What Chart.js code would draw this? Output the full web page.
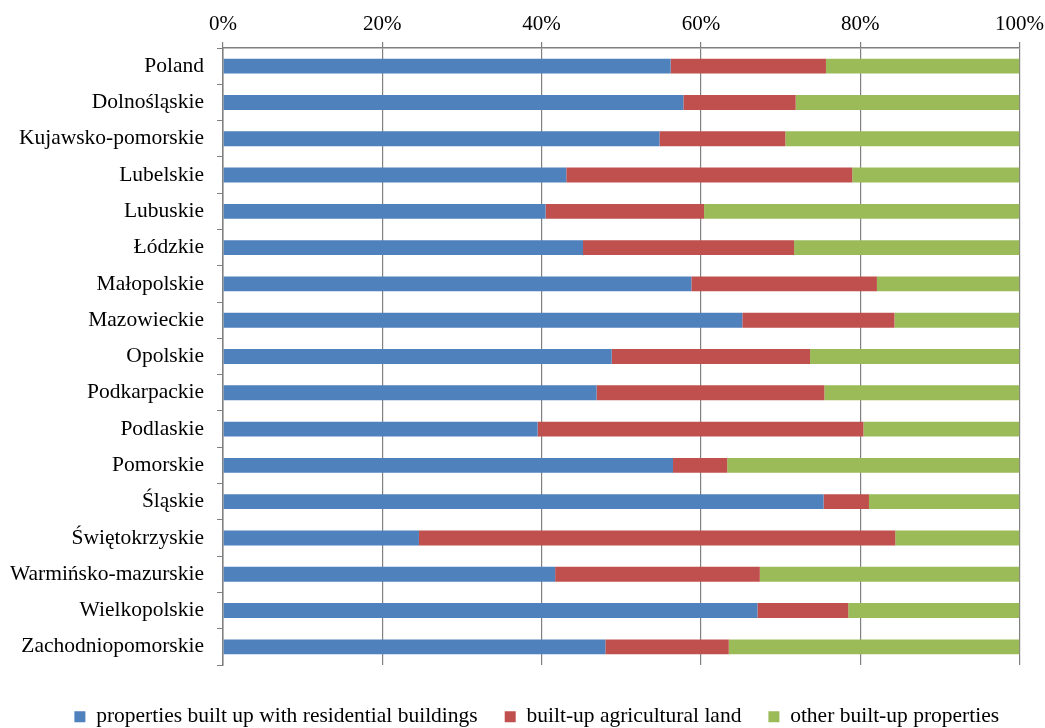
<!DOCTYPE html>
<html>
<head>
<meta charset="utf-8">
<script src="https://cdn.jsdelivr.net/npm/chart.js@4.4.1/dist/chart.umd.min.js"></script>
<style>
  html, body { margin: 0; padding: 0; background: #fff; }
  canvas { display: block; }
</style>
</head>
<body>
<canvas id="c" width="1045" height="728"></canvas>
<script>
const categories = [
  "Poland", "Dolnośląskie", "Kujawsko-pomorskie", "Lubelskie", "Lubuskie",
  "Łódzkie", "Małopolskie", "Mazowieckie", "Opolskie", "Podkarpackie",
  "Podlaskie", "Pomorskie", "Śląskie", "Świętokrzyskie", "Warmińsko-mazurskie",
  "Wielkopolskie", "Zachodniopomorskie"
];
const residential = [56.2, 57.8, 54.8, 43.1, 40.5, 45.2, 58.8, 65.2, 48.8, 46.9, 39.5, 56.5, 75.4, 24.6, 41.7, 67.1, 48.0];
const agricultural = [19.5, 14.1, 15.8, 35.9, 19.9, 26.5, 23.3, 19.1, 24.9, 28.6, 40.9, 6.8, 5.7, 59.8, 25.7, 11.4, 15.5];
const other = [24.3, 28.1, 29.4, 21.0, 39.6, 28.3, 17.9, 15.7, 26.3, 24.5, 19.6, 36.7, 18.9, 15.6, 32.6, 21.5, 36.5];
const seriesNames = ["properties built up with residential buildings", "built-up agricultural land", "other built-up properties"];
const tickValues = [0, 20, 40, 60, 80, 100];

const FONT = "'Liberation Serif', 'Times New Roman', serif";
const GRID = "#808080";

const legendFix = {
  id: 'legendFix',
  beforeLayout(chart) {
    const lg = chart.legend;
    if (lg && !lg._fixed) {
      const origFit = lg.fit;
      lg.fit = function () { origFit.call(this); this.height = 63; };
      const origDraw = lg._draw;
      lg._draw = function () {
        const ctx = this.ctx;
        ctx.save();
        ctx.translate(27, 14);
        origDraw.call(this);
        ctx.restore();
      };
      lg._fixed = true;
    }
  }
};

new Chart(document.getElementById('c'), {
  type: 'bar',
  data: {
    labels: categories,
    datasets: [
      { label: seriesNames[0], data: residential, backgroundColor: '#4F81BD' },
      { label: seriesNames[1], data: agricultural, backgroundColor: '#C0504D' },
      { label: seriesNames[2], data: other, backgroundColor: '#9BBB59' }
    ]
  },
  options: {
    indexAxis: 'y',
    responsive: false,
    animation: false,
    datasets: { bar: { categoryPercentage: 1, barPercentage: 0.41, borderWidth: 0 } },
    layout: { padding: { left: 0, right: 25.5, top: 0, bottom: 0 } },
    scales: {
      x: {
        position: 'top',
        stacked: true,
        min: 0, max: 100,
        afterBuildTicks(scale) { scale.ticks = tickValues.map(v => ({ value: v })); },
        afterFit(scale) { scale.height = 48; scale.paddingLeft = 0; scale.paddingRight = 0; },
        ticks: {
          callback: v => v + '%',
          color: '#000',
          font: { family: FONT, size: 21 },
          padding: 5,
          maxRotation: 0
        },
        grid: {
          color: GRID,
          lineWidth: 1.2,
          borderDash: [4, 3],
          tickLength: 6,
          tickBorderDash: [],
          tickColor: GRID
        },
        border: { display: true, color: GRID, width: 1.5 }
      },
      y: {
        stacked: true,
        afterFit(scale) { scale.width = 223; },
        ticks: {
          color: '#000',
          font: { family: FONT, size: 21.5 },
          padding: 13,
          autoSkip: false
        },
        grid: {
          display: true,
          offset: true,
          drawOnChartArea: false,
          tickLength: 6,
          color: GRID
        },
        border: { display: true, color: GRID, width: 1.5 }
      }
    },
    plugins: {
      tooltip: { enabled: false },
      legend: {
        position: 'bottom',
        labels: {
          boxWidth: 11,
          boxHeight: 11,
          padding: 27,
          color: '#000',
          font: { family: FONT, size: 21.5 }
        }
      }
    }
  },
  plugins: [legendFix]
});
</script>
</body>
</html>
